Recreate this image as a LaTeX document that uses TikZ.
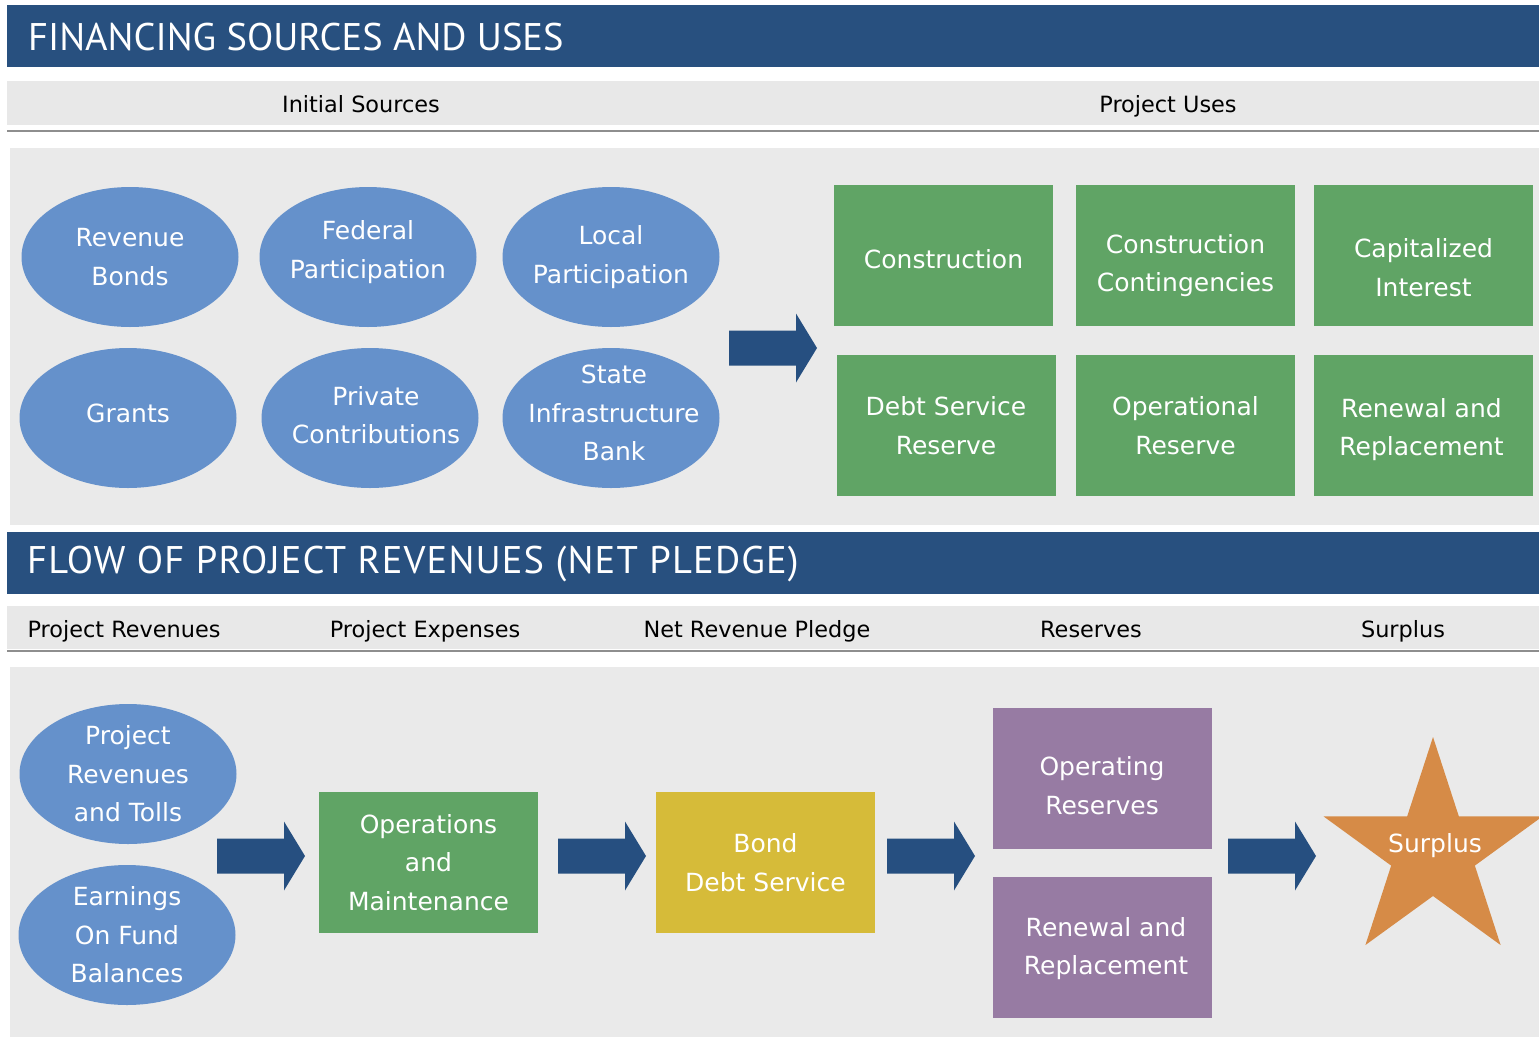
\documentclass[tikz,border=0pt]{standalone}
\usepackage{fontspec}
\setmainfont{DejaVu Sans}
\newfontfamily\titlefont{PT Sans}
\usetikzlibrary{shapes.geometric}

\definecolor{barblue}{HTML}{28507F}
\definecolor{bandgrey}{HTML}{E8E8E8}
\definecolor{panelgrey}{HTML}{EAEAEA}
\definecolor{rulegrey}{HTML}{8E8E8E}
\definecolor{ovalblue}{HTML}{6591CB}
\definecolor{boxgreen}{HTML}{60A465}
\definecolor{boxyellow}{HTML}{D6BB39}
\definecolor{boxpurple}{HTML}{977BA3}
\definecolor{starorange}{HTML}{D68B47}
\definecolor{arrowblue}{HTML}{264F80}

\tikzset{
  titlebar/.style={fill=barblue},
  titletext/.style={anchor=west, text=white, inner sep=0pt,
    font=\titlefont\fontsize{38.5}{40}\selectfont},
  band/.style={fill=bandgrey},
  bandtext/.style={anchor=base, text=black, inner sep=0pt,
    font=\fontsize{22.4}{24}\selectfont},
  bandrule/.style={draw=rulegrey, line width=2.5pt},
  panel/.style={fill=panelgrey},
  shapetext/.style={text=white, align=center, inner sep=0pt,
    font=\fontsize{25}{38.5}\selectfont},
  oval/.style={shapetext, ellipse, fill=ovalblue, inner xsep=-30pt, inner ysep=-25pt,
    minimum width=217pt, minimum height=140pt},
  usebox/.style={shapetext, rectangle, minimum width=219pt, minimum height=141pt},
  greenbox/.style={usebox, fill=boxgreen},
  yellowbox/.style={usebox, fill=boxyellow},
  purplebox/.style={usebox, fill=boxpurple},
  % caption placed inside a shape with a small offset from its centre
  inside/.style={shapetext, xshift=#1},
  blockarrow/.pic={
    \fill[arrowblue] (0,-17.5) -- (67,-17.5) -- (67,-34.5) -- (88,0)
      -- (67,34.5) -- (67,17.5) -- (0,17.5) -- cycle;
  }
}

\begin{document}
\begin{tikzpicture}[x=1pt, y=-1pt]
\useasboundingbox (0,0) rectangle (1539,1039);
\fill[white] (0,0) rectangle (1539,1039);

% ---------- Financing sources and uses ----------
\fill[titlebar] (7,5) rectangle (1539,67);
\node[titletext] (title1) at (28,37) {FINANCING SOURCES AND USES};

\fill[band] (7,81) rectangle (1539,125);
\draw[bandrule] (7,131) -- (1539,131);
\node[bandtext] (hsrc) at (361,112) {Initial Sources};
\node[bandtext] (huse) at (1168,112) {Project Uses};

\fill[panel] (10,148) rectangle (1539,525);

\node[oval] (revbonds) at (130,257) {Revenue\\Bonds};
\node[oval, label={[inside=0pt, yshift=5pt]center:{Federal\\Participation}}]
  (federal) at (368,257) {};
\node[oval] (local)    at (611,257) {Local\\Participation};
\node[oval, label={[inside=0pt, yshift=5pt]center:Grants}]
  (grants) at (128,418) {};
\node[oval, label={[inside=6pt, yshift=3pt]center:{Private\\Contributions}}]
  (private) at (370,418) {};
\node[oval, label={[inside=3pt, yshift=5pt]center:{State\\Infrastructure\\Bank}}]
  (sib) at (611,418) {};

\pic at (729,348) {blockarrow};

\node[greenbox, label={[inside=0pt, yshift=-4pt]center:Construction}]
  (constr) at (943.5,255.5) {};
\node[greenbox, label={[inside=0pt, yshift=-10pt]center:{Construction\\Contingencies}}]
  (contin) at (1185.5,255.5) {};
\node[greenbox, label={[inside=0pt, yshift=-12pt]center:{Capitalized\\Interest}}]
  (capint) at (1423.5,255.5) {};
\node[greenbox] (dsr)     at (946,425.5)    {Debt Service\\Reserve};
\node[greenbox] (opres)   at (1185.5,425.5) {Operational\\Reserve};
\node[greenbox, label={[inside=-2pt, yshift=-4pt]center:{Renewal and\\Replacement}}]
  (rr1) at (1423.5,425.5) {};

% ---------- Flow of project revenues ----------
\fill[titlebar] (7,532) rectangle (1539,594);
\node[titletext, font=\titlefont\fontsize{38.5}{40}\selectfont\addfontfeature{LetterSpace=3.1}]
  (title2) at (27,564) {FLOW OF PROJECT REVENUES (NET PLEDGE)};

\fill[band] (7,606) rectangle (1539,649);
\draw[bandrule] (7,651) -- (1539,651);
\node[bandtext] (hrev)  at (124,637)  {Project Revenues};
\node[bandtext] (hexp)  at (425,637)  {Project Expenses};
\node[bandtext] (hnet)  at (757,637)  {Net Revenue Pledge};
\node[bandtext] (hres)  at (1091,637) {Reserves};
\node[bandtext] (hsur)  at (1403,637) {Surplus};

\fill[panel] (10,667) rectangle (1539,1037);

\node[oval] (tolls)    at (128,774) {Project\\Revenues\\and Tolls};
\node[oval] (earnings) at (127,935) {Earnings\\On Fund\\Balances};

\node[greenbox]  (opmaint)  at (428.5,862.5) {Operations\\and\\Maintenance};
\node[yellowbox] (bondds)   at (765.5,862.5) {Bond\\Debt Service};
\node[purplebox, label={[inside=0pt, yshift=-7pt]center:{Operating\\Reserves}}]
  (opreserv) at (1102,778.5) {};
\node[purplebox, label={[inside=4pt, yshift=-1pt]center:{Renewal and\\Replacement}}]
  (rr2) at (1102,947.5) {};

% five-pointed star around its centre
\coordinate (starc) at (1433,852);
\fill[starorange]
  ([shift={(90:115pt)}]starc)  -- ([shift={(126:44pt)}]starc) --
  ([shift={(162:115pt)}]starc) -- ([shift={(198:44pt)}]starc) --
  ([shift={(234:115pt)}]starc) -- ([shift={(270:44pt)}]starc) --
  ([shift={(306:115pt)}]starc) -- ([shift={(342:44pt)}]starc) --
  ([shift={(18:115pt)}]starc)  -- ([shift={(54:44pt)}]starc) -- cycle;
\node[shapetext] (surplus) at (1435,846) {Surplus};

\pic at (217,856) {blockarrow};
\pic at (558,856) {blockarrow};
\pic at (887,856) {blockarrow};
\pic at (1228,856) {blockarrow};
\end{tikzpicture}
\end{document}
